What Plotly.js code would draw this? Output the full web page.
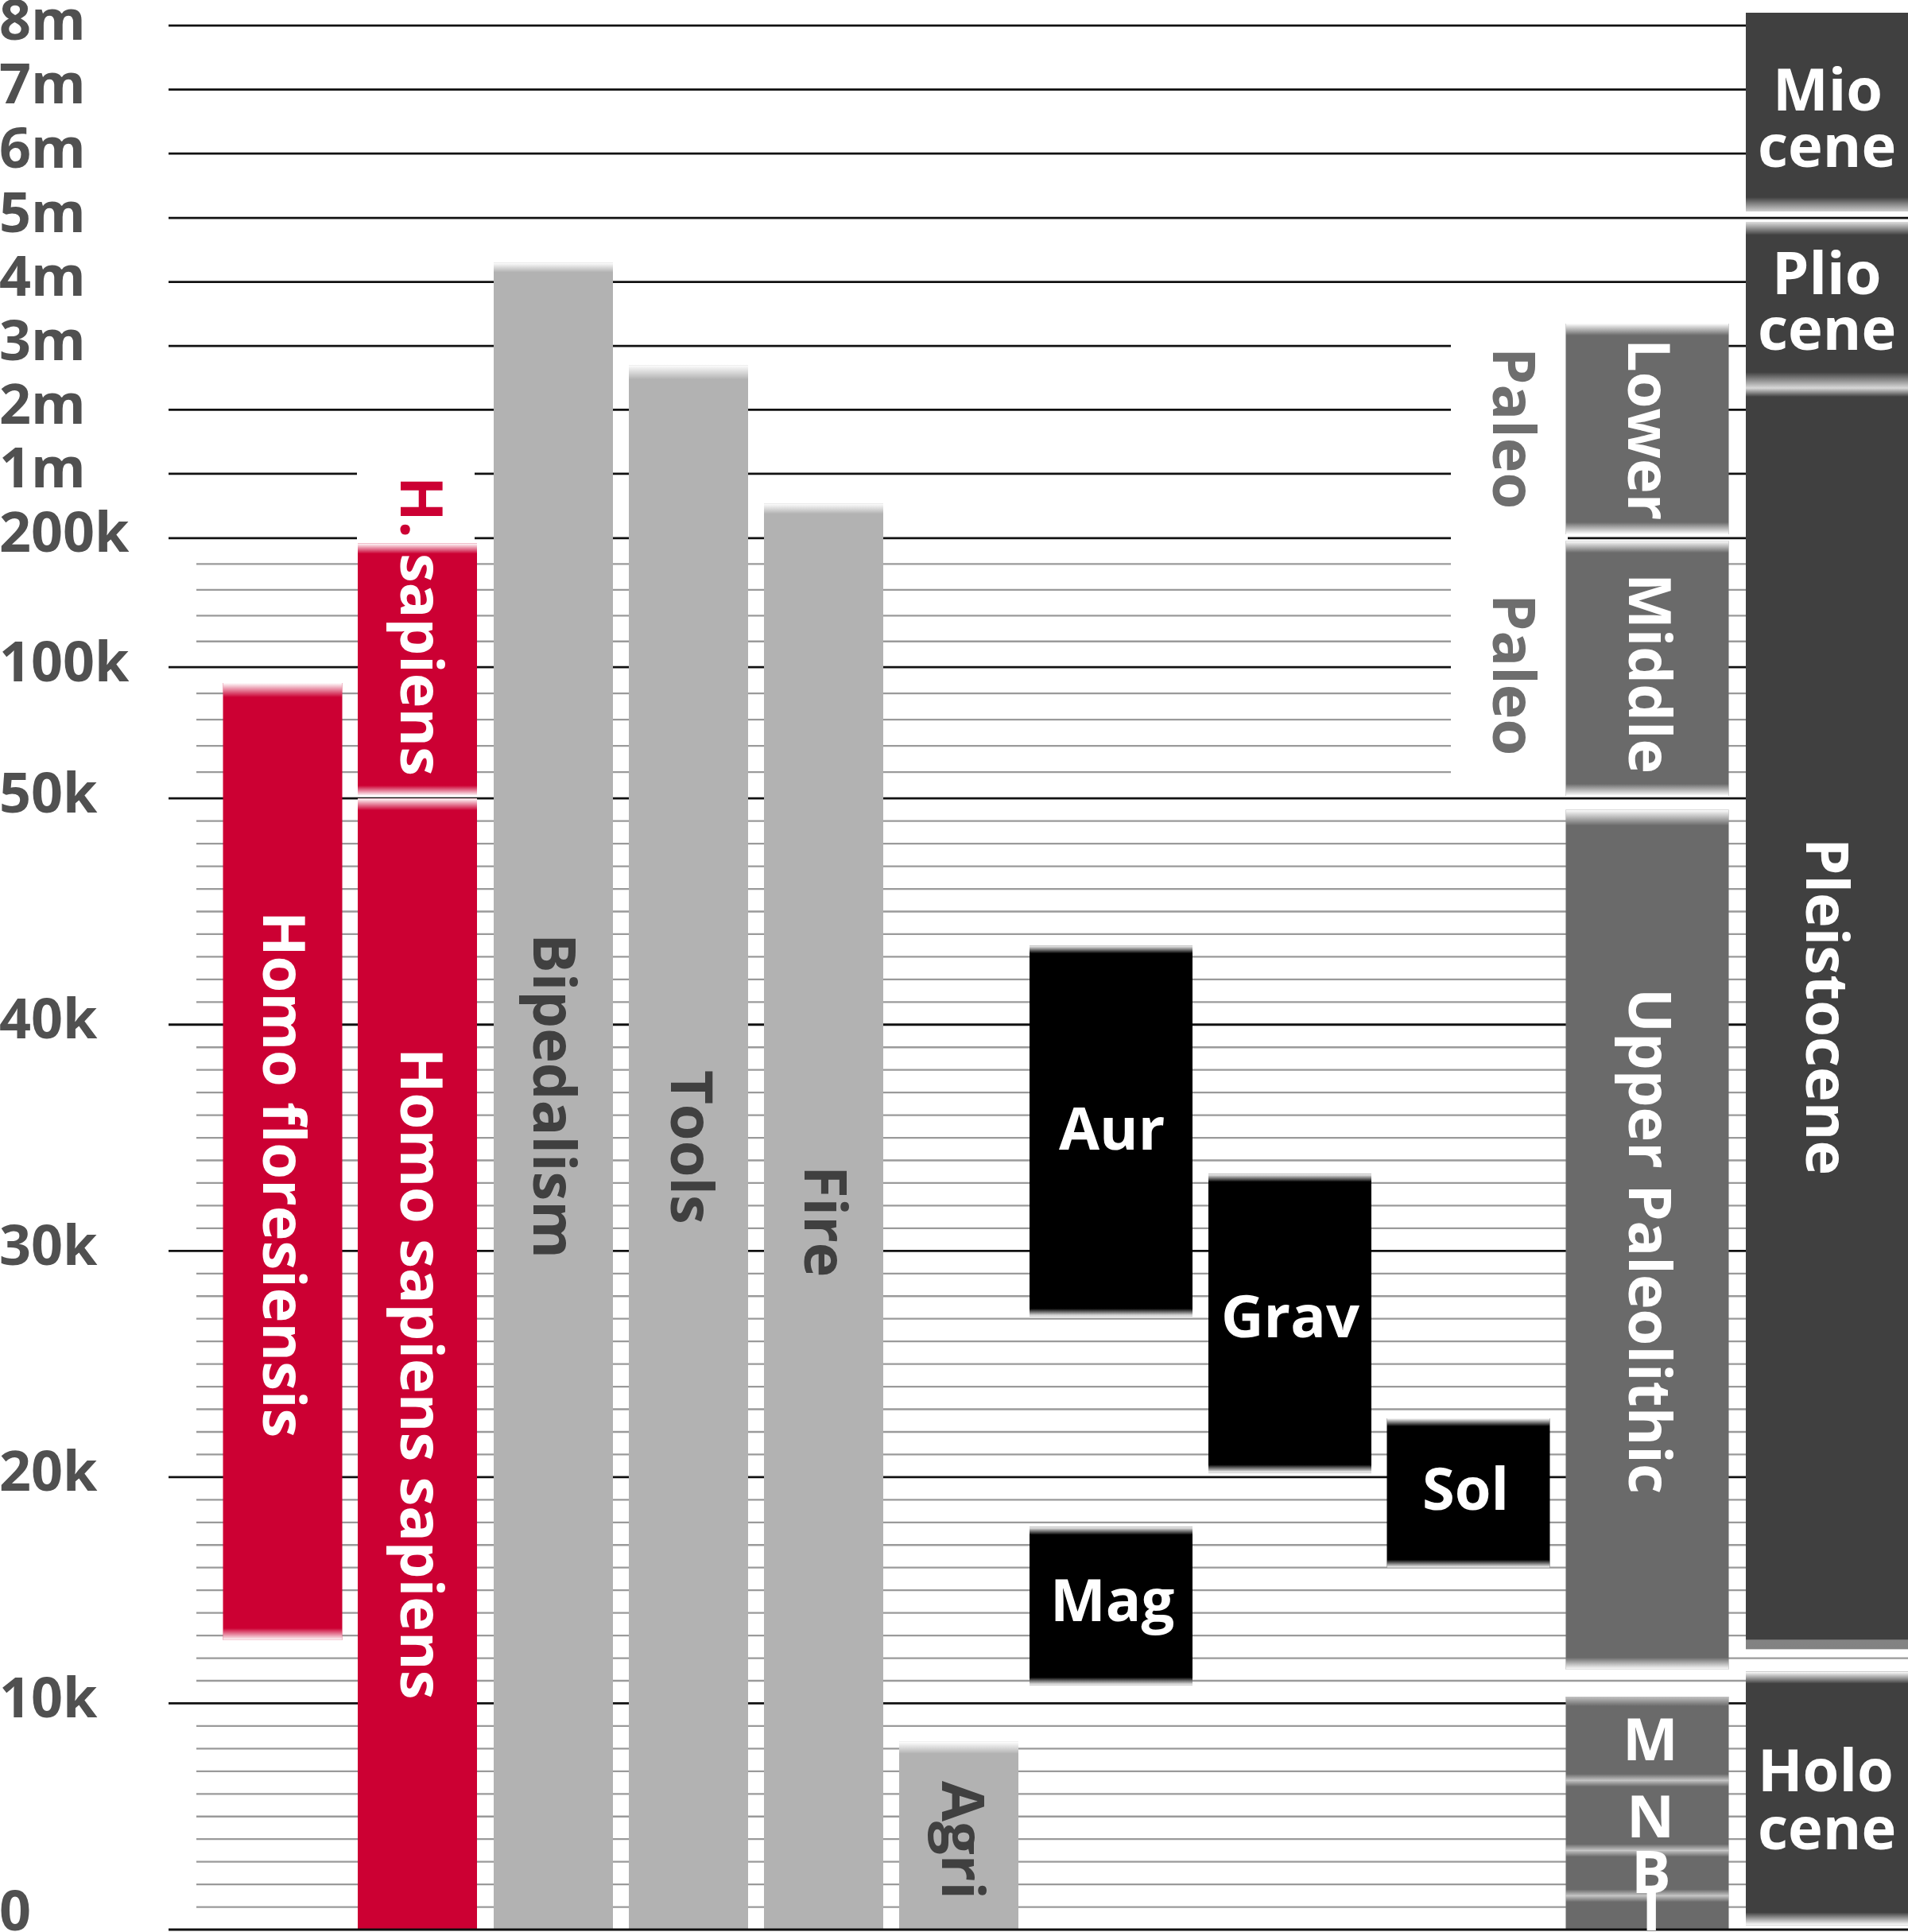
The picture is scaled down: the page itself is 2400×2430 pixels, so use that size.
<!DOCTYPE html>
<html>
<head>
<meta charset="utf-8">
<script src="https://cdn.plot.ly/plotly-3.0.1.min.js"></script>
<style>html,body{margin:0;padding:0;background:#fff;}</style>
</head>
<body>
<div id="chart" style="width:2400px;height:2430px"></div>
<script>
// ---------------- axis (years) ----------------
const tickYears  = [0, 10000, 20000, 30000, 40000, 50000, 100000, 200000, 1e6, 2e6, 3e6, 4e6, 5e6, 6e6, 7e6, 8e6];
const tickLabels = ['0', '10k', '20k', '30k', '40k', '50k', '100k', '200k', '1m', '2m', '3m', '4m', '5m', '6m', '7m', '8m'];
const minorYears = [1000,2000,3000,4000,5000,6000,7000,8000,9000,
                    11000,12000,13000,14000,15000,16000,17000,18000,19000,
                    21000,22000,23000,24000,25000,26000,27000,28000,29000,
                    31000,32000,33000,34000,35000,36000,37000,38000,39000,
                    41000,42000,43000,44000,45000,46000,47000,48000,49000,
                    60000,70000,80000,90000,120000,140000,160000,180000];

// ---------------- data (years ago: from = older, to = younger) ----------------
const speciesNames = ['Homo floresiensis', 'H. sapiens', 'Homo sapiens sapiens'];
const speciesFrom  = [94000, 196000, 50000];
const speciesTo    = [12800, 51000, 0];

const milestoneNames = ['Bipedalism', 'Tools', 'Fire', 'Agri'];
const milestoneFrom  = [4300000, 2700000, 630000, 8300];
const milestoneTo    = [0, 0, 0, 0];

const cultureNames = ['Aur', 'Grav', 'Sol', 'Mag'];
const cultureFrom  = [43500, 33400, 22600, 17800];
const cultureTo    = [27100, 20200, 16000, 10800];

const periodNames = ['Lower', 'Middle', 'Upper Paleolithic', 'M', 'N', 'B', 'I'];
const periodFrom  = [3350000, 198000, 49500, 10300, 6600, 3500, 1500];
const periodTo    = [250000, 51000, 11500, 6600, 3500, 1500, 0];

const epochNames = ['Miocene', 'Pliocene', 'Pleistocene', 'Holocene'];
const epochFrom  = [8200000, 4930000, 2340000, 11400];
const epochTo    = [5100000, 2340000, 12400, 200];

// ---------------- scale / layout ----------------
// piecewise axis: position of each major tick on the drawing scale
const tickPos = [0, 1, 2, 3, 4, 5, 5.58, 6.15, 6.435, 6.718, 7.0, 7.283, 7.566, 7.85, 8.133, 8.416];
const Y_MIN = -0.0105, Y_MAX = 8.529;
const H = 2430, W = 2400;
const PXU = H / (Y_MAX - Y_MIN);

function toPos(v) {
  for (let i = 0; i < tickYears.length - 1; i++) {
    if (v <= tickYears[i + 1]) {
      return tickPos[i] + (v - tickYears[i]) / (tickYears[i + 1] - tickYears[i]) * (tickPos[i + 1] - tickPos[i]);
    }
  }
  const n = tickYears.length - 1;
  return tickPos[n] + (v - tickYears[n]) / (tickYears[n] - tickYears[n - 1]) * (tickPos[n] - tickPos[n - 1]);
}

const groups = [
  {names: speciesNames, from: speciesFrom, to: speciesTo, x: [355.5, 525, 525], w: 150, color: '#CC0033',
   fades: [[18, 15, 1], [13, 13, 1], [15, 0, 1]]},
  {names: milestoneNames, from: milestoneFrom, to: milestoneTo, x: [696, 866, 1036, 1206], w: 150, color: '#B2B2B2',
   fades: [[12, 0, 1], [18, 0, 1], [13, 0, 1], [15, 0, 1]]},
  {names: cultureNames, from: cultureFrom, to: cultureTo, x: [1397.5, 1622.5, 1847, 1397.5], w: 205, color: '#000000',
   fades: [[10, 10, 1], [10, 10, 1], [10, 10, 1], [10, 10, 1]]},
  {names: periodNames, from: periodFrom, to: periodTo, x: [2072, 2072, 2072, 2072, 2072, 2072, 2072], w: 205, color: '#6A6A6A',
   fades: [[15, 15, 1], [15, 15, 1], [20, 15, 1], [12, 8, 0.6], [8, 8, 0.6], [8, 8, 0.6], [8, 0, 0.6]]},
  {names: epochNames, from: epochFrom, to: epochTo, x: [2298, 2298, 2298, 2298], w: 204, color: '#404040',
   fades: [[0, 18, 0.75], [16, 20, 0.8], [11, -12, 0.8], [15, 16, 1]]}
];

const traces = [];
const fadeTraces = [];
function wrgba(a) { return 'rgba(255,255,255,' + a + ')'; }
function addFade(xc, w, edge, inward, lenPx, alpha) {
  const hard = lenPx < 0;
  const len = Math.abs(lenPx) / PXU;
  const inner = edge + inward * len;
  const lo = Math.min(edge, inner), hi = Math.max(edge, inner);
  let cs;
  if (hard) cs = [[0, wrgba(0.35)], [1, wrgba(0.35)]];
  else if (edge === lo) cs = [[0, wrgba(alpha)], [1, wrgba(0)]];
  else cs = [[0, wrgba(0)], [1, wrgba(alpha)]];
  const x0 = xc - w / 2, x1 = xc + w / 2;
  fadeTraces.push({
    type: 'scatter', x: [x0, x1, x1, x0, x0], y: [lo, lo, hi, hi, lo],
    mode: 'none', fill: 'toself', fillcolor: 'rgba(0,0,0,0)',
    fillgradient: {type: 'vertical', colorscale: cs, start: lo, stop: hi},
    hoverinfo: 'skip', showlegend: false
  });
}

groups.forEach(g => {
  const base = g.to.map(toPos);
  const len = g.from.map((f, i) => toPos(f) - base[i]);
  traces.push({
    type: 'bar', x: g.x, base: base, y: len, width: g.w, text: g.names,
    textposition: 'none', marker: {color: g.color, line: {width: 0}},
    hoverinfo: 'skip', showlegend: false
  });
  g.x.forEach((xc, i) => {
    const f = g.fades[i];
    if (f[0] !== 0) addFade(xc, g.w, toPos(g.from[i]), -1, f[0], f[2]);
    if (f[1] !== 0) addFade(xc, g.w, toPos(g.to[i]), +1, f[1], f[2]);
  });
});

// ---------------- grid lines & masks ----------------
const shapes = [];
tickYears.forEach(v => shapes.push({
  type: 'line', xref: 'x', yref: 'y', x0: 212, x1: W, y0: toPos(v), y1: toPos(v),
  line: {color: '#111111', width: 2.8}, layer: v === 0 ? 'above' : 'below'
}));
minorYears.forEach(v => shapes.push({
  type: 'line', xref: 'x', yref: 'y', x0: 247, x1: W, y0: toPos(v), y1: toPos(v),
  line: {color: '#9A9A9A', width: 2.3}, layer: 'below'
}));
shapes.push({type: 'rect', xref: 'x', yref: 'y', x0: 1825, x1: 1972, y0: toPos(56000), y1: toPos(3500000),
  fillcolor: '#ffffff', line: {width: 0}, layer: 'below'});
shapes.push({type: 'rect', xref: 'x', yref: 'y', x0: 449, x1: 597, y0: toPos(185000), y1: toPos(1300000),
  fillcolor: '#ffffff', line: {width: 0}, layer: 'below'});

// ---------------- text labels ----------------
const FONT = 'Open Sans';
function ann(text, xpx, ypx, color, angle, size) {
  return {
    text: text, xref: 'paper', yref: 'paper', x: xpx / W, y: 1 - ypx / H,
    xanchor: 'center', yanchor: 'middle', showarrow: false, textangle: angle || 0,
    font: {family: FONT, size: size || 74, color: color, weight: 700}
  };
}
const annotations = [
  ann('Homo floresiensis', 360, 1477, '#ffffff', 90),
  ann('<span style="color:#CC0033">H.</span> sapiens', 533, 787, '#ffffff', 90),
  ann('Homo sapiens sapiens', 533, 1727, '#ffffff', 90),
  ann('Bipedalism', 700, 1378, '#404040', 90),
  ann('Tools', 872, 1443, '#404040', 90),
  ann('Fire', 1041, 1536, '#404040', 90),
  ann('Agri', 1214, 2314, '#404040', 90),
  ann('Paleo', 1907, 538, '#6E6E6E', 90),
  ann('Paleo', 1907, 848, '#6E6E6E', 90),
  ann('Lower', 2077, 540, '#ffffff', 90),
  ann('Middle', 2078, 847, '#ffffff', 90),
  ann('Upper Paleolithic', 2078, 1561, '#ffffff', 90),
  ann('Pleistocene', 2301, 1266, '#ffffff', 90),
  ann('Aur', 1398, 1417, '#ffffff'),
  ann('Grav', 1623, 1653, '#ffffff'),
  ann('Sol', 1843, 1870, '#ffffff'),
  ann('Mag', 1399, 2010, '#ffffff'),
  ann('Mio', 2299, 110, '#ffffff'),
  ann('cene', 2298, 182, '#ffffff'),
  ann('Plio', 2297, 341, '#ffffff'),
  ann('cene', 2298, 412, '#ffffff'),
  ann('Holo', 2296, 2224, '#ffffff'),
  ann('cene', 2298, 2297, '#ffffff'),
  ann('M', 2076, 2185, '#ffffff'),
  ann('N', 2076, 2282, '#ffffff'),
  ann('B', 2077, 2352, '#ffffff'),
  ann('I', 2077, 2399, '#ffffff'),
  // the "0" label sits above its line at the bottom edge
  {text: tickLabels[0], xref: 'paper', yref: 'paper', x: -3 / W, y: 1 - 2401 / H, xanchor: 'left', yanchor: 'middle',
   showarrow: false, font: {family: FONT, size: 70, color: '#505050', weight: 700}}
];

const layout = {
  width: W, height: H,
  margin: {l: 0, r: 0, t: 0, b: 0, pad: 0},
  paper_bgcolor: '#ffffff', plot_bgcolor: '#ffffff',
  barmode: 'overlay', showlegend: false, hovermode: false,
  xaxis: {range: [0, W], visible: false, fixedrange: true},
  yaxis: {
    range: [Y_MIN, Y_MAX], fixedrange: true,
    tickmode: 'array', tickvals: tickPos.slice(1), ticktext: tickLabels.slice(1),
    ticklabelposition: 'inside', ticklabeloverflow: 'allow', ticklabelshift: -7, ticklabelstandoff: -4,
    ticks: '', showgrid: false, zeroline: false, showline: false,
    tickfont: {family: FONT, size: 70, color: '#505050', weight: 700}
  },
  shapes: shapes,
  annotations: annotations
};

Plotly.newPlot('chart', traces.concat(fadeTraces), layout, {staticPlot: true, displayModeBar: false});
</script>
</body>
</html>
